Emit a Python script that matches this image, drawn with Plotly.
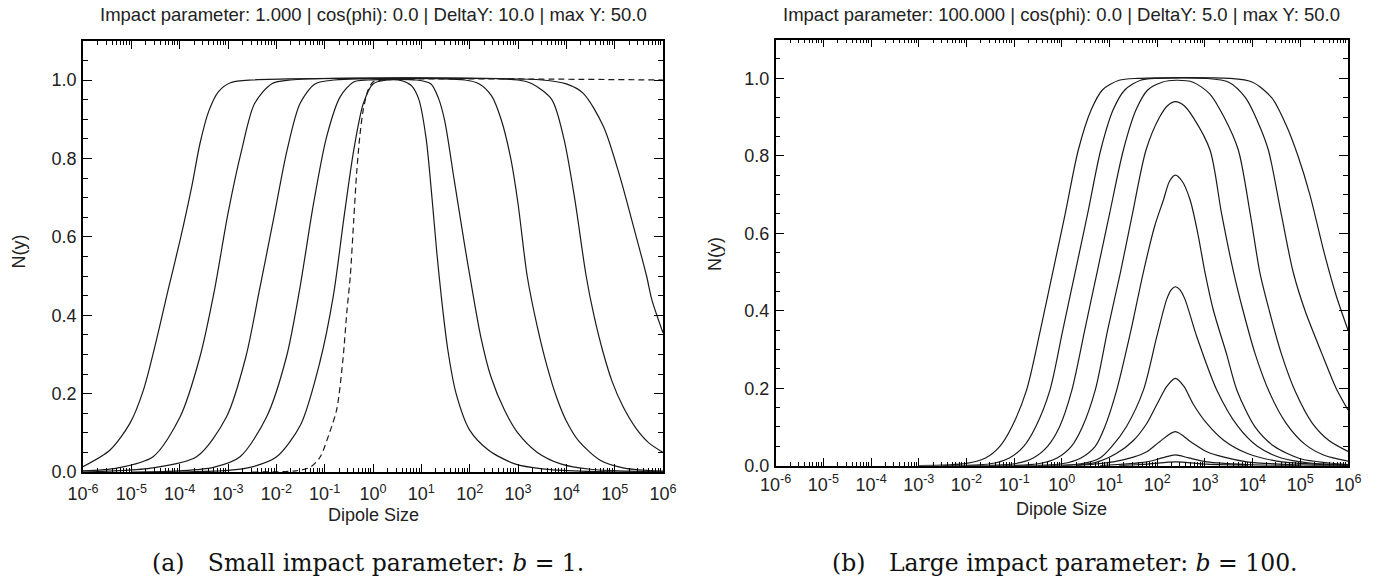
import numpy as np
import plotly.graph_objects as go

# ---------------------------------------------------------------
# Dipole amplitude N(r) vs dipole size r, read at several rapidities.
# Positions are given as log10(r); values are N.
# ---------------------------------------------------------------

# Panel (a): impact parameter b = 1, DeltaY = 10
a_y0_logr = [-2.5, -1.6, -1.3, -1.1, -0.9, -0.75, -0.62, -0.54, -0.47, -0.40, -0.34, -0.27, -0.20, -0.10, 0.0, 0.2, 6.0]
a_y0_n = [0.0, 0.003, 0.012, 0.037, 0.10, 0.16, 0.29, 0.41, 0.5, 0.64, 0.76, 0.86, 0.925, 0.975, 0.995, 1.0, 1.0]

a_y10_logr = [-4.0, -3.0, -2.5, -2.0, -1.5, -1.1, -0.82, -0.6, -0.4, -0.2, 0.0, 0.3, 0.6, 0.8, 0.95, 1.1, 1.22, 1.32, 1.42, 1.55, 1.72, 2.0, 2.4, 2.95, 3.5, 4.3, 5.2, 6.0]
a_y10_n = [0.0, 0.004, 0.013, 0.038, 0.12, 0.28, 0.45, 0.65, 0.82, 0.94, 0.99, 1.0, 0.998, 0.985, 0.95, 0.85, 0.70, 0.56, 0.44, 0.31, 0.20, 0.107, 0.055, 0.02, 0.008, 0.002, 0.0, 0.0]

a_y20_logr = [-5.0, -4.0, -3.3, -2.75, -2.2, -1.79, -1.52, -1.23, -0.96, -0.68, -0.4, -0.1, 0.9, 1.2, 1.35, 1.48, 1.68, 1.89, 2.03, 2.23, 2.44, 2.72, 3.0, 3.4, 3.9, 4.5, 5.3, 6.0]
a_y20_n = [0.0, 0.003, 0.012, 0.039, 0.141, 0.294, 0.464, 0.685, 0.855, 0.957, 0.995, 1.0, 1.0, 0.99, 0.955, 0.898, 0.745, 0.583, 0.481, 0.345, 0.243, 0.158, 0.099, 0.05, 0.02, 0.007, 0.002, 0.0]

a_y30_logr = [-6.0, -5.5, -4.6, -3.65, -3.03, -2.63, -2.35, -2.05, -1.78, -1.51, -1.2, -0.8, 1.9, 2.2, 2.45, 2.65, 2.85, 3.0, 3.19, 3.4, 3.6, 3.8, 4.0, 4.25, 4.7, 5.2, 6.0]
a_y30_n = [0.0, 0.002, 0.01, 0.039, 0.141, 0.294, 0.464, 0.65, 0.82, 0.94, 0.99, 1.0, 1.0, 0.99, 0.96, 0.90, 0.80, 0.685, 0.5, 0.37, 0.27, 0.19, 0.13, 0.08, 0.03, 0.01, 0.002]

a_y40_logr = [-6.0, -5.3, -4.55, -3.99, -3.58, -3.28, -3.0, -2.72, -2.45, -2.1, -1.7, 3.0, 3.3, 3.7, 3.95, 4.17, 4.41, 4.57, 4.75, 4.95, 5.18, 5.45, 5.7, 6.0]
a_y40_n = [0.003, 0.01, 0.039, 0.141, 0.294, 0.464, 0.66, 0.82, 0.94, 0.99, 1.0, 1.0, 0.99, 0.95, 0.85, 0.70, 0.5, 0.40, 0.31, 0.23, 0.165, 0.11, 0.075, 0.05]

a_y50_logr = [-6.0, -5.44, -5.03, -4.75, -4.48, -4.24, -3.99, -3.75, -3.58, -3.4, -3.2, -2.95, -2.5, 3.5, 4.0, 4.35, 4.77, 5.11, 5.39, 5.66, 5.77, 6.0]
a_y50_n = [0.0135, 0.056, 0.124, 0.209, 0.337, 0.464, 0.592, 0.728, 0.838, 0.92, 0.97, 0.993, 1.0, 1.0, 0.99, 0.966, 0.881, 0.753, 0.626, 0.5, 0.439, 0.355]

# Panel (b): impact parameter b = 100, DeltaY = 5
b_y5_logr = [1.2, 1.8, 2.38, 3.04, 3.9]
b_y5_n = [0.0, 0.004, 0.010, 0.004, 0.001]

b_y10_logr = [0.8, 1.78, 2.1, 2.38, 2.66, 3.04, 3.88, 5.0]
b_y10_n = [0.0, 0.010, 0.02, 0.028, 0.02, 0.010, 0.003, 0.0]

b_y15_logr = [0.3, 1.08, 1.5, 1.78, 2.05, 2.38, 2.7, 3.04, 3.4, 3.88, 4.8, 6.0]
b_y15_n = [0.0, 0.010, 0.022, 0.036, 0.062, 0.088, 0.062, 0.036, 0.022, 0.010, 0.003, 0.0]

b_y20_logr = [0.0, 0.7, 1.15, 1.5, 1.78, 2.0, 2.2, 2.38, 2.56, 2.75, 3.04, 3.4, 3.88, 4.5, 5.3, 6.0]
b_y20_n = [0.0, 0.008, 0.032, 0.065, 0.109, 0.16, 0.205, 0.2256, 0.205, 0.16, 0.109, 0.065, 0.032, 0.012, 0.004, 0.001]

b_y25_logr = [-0.5, 0.4, 0.8, 1.05, 1.35, 1.71, 1.99, 2.2, 2.3, 2.38, 2.47, 2.58, 2.83, 3.25, 3.7, 4.1, 4.6, 5.2, 6.0]
b_y25_n = [0.0, 0.005, 0.02, 0.05, 0.1, 0.195, 0.333, 0.43, 0.455, 0.462, 0.455, 0.43, 0.333, 0.195, 0.1, 0.05, 0.02, 0.007, 0.002]

b_y30_logr = [-1.0, 0.0, 0.4, 0.7, 0.9, 1.15, 1.45, 1.71, 1.95, 2.13, 2.26, 2.38, 2.52, 2.69, 2.85, 3.0, 3.18, 3.45, 3.67, 4.05, 4.45, 5.0, 5.6, 6.0]
b_y30_n = [0.0, 0.005, 0.02, 0.05, 0.1, 0.195, 0.35, 0.5, 0.62, 0.686, 0.735, 0.75, 0.735, 0.686, 0.6, 0.5, 0.40, 0.29, 0.195, 0.1, 0.05, 0.018, 0.007, 0.003]

b_y35_logr = [-1.5, -0.5, -0.1, 0.2, 0.43, 0.70, 0.96, 1.23, 1.48, 1.765, 2.05, 2.22, 2.38, 2.56, 2.75, 3.107, 3.35, 3.6, 3.8, 4.05, 4.35, 4.7, 5.1, 5.5, 6.0]
b_y35_n = [0.0, 0.005, 0.02, 0.05, 0.1, 0.195, 0.35, 0.5, 0.65, 0.815, 0.9, 0.93, 0.94, 0.93, 0.9, 0.815, 0.65, 0.5, 0.40, 0.29, 0.19, 0.11, 0.055, 0.027, 0.012]

b_y40_logr = [-2.0, -1.0, -0.6, -0.3, -0.05, 0.21, 0.48, 0.74, 1.0, 1.29, 1.56, 1.8, 2.1, 2.4, 2.75, 3.1, 3.4, 3.7, 3.95, 4.15, 4.35, 4.6, 4.9, 5.25, 5.6, 6.0]
b_y40_n = [0.0, 0.005, 0.02, 0.05, 0.1, 0.195, 0.35, 0.5, 0.65, 0.815, 0.92, 0.97, 0.99, 0.995, 0.99, 0.96, 0.90, 0.815, 0.65, 0.5, 0.40, 0.29, 0.19, 0.11, 0.065, 0.037]

b_y45_logr = [-2.5, -1.5, -1.1, -0.8, -0.55, -0.25, 0.02, 0.28, 0.54, 0.815, 1.08, 1.32, 1.65, 2.0, 3.0, 3.5, 3.85, 4.1, 4.33, 4.6, 4.85, 5.1, 5.45, 5.75, 6.0]
b_y45_n = [0.0, 0.005, 0.02, 0.05, 0.1, 0.195, 0.35, 0.5, 0.65, 0.815, 0.92, 0.97, 0.995, 1.0, 1.0, 0.99, 0.95, 0.89, 0.815, 0.65, 0.5, 0.40, 0.29, 0.2, 0.144]

b_y50_logr = [-3.0, -2.0, -1.6, -1.3, -1.05, -0.74, -0.45, -0.19, 0.07, 0.345, 0.62, 0.85, 1.2, 1.6, 3.5, 4.0, 4.4, 4.7, 4.95, 5.2, 5.5, 5.75, 6.0]
b_y50_n = [0.0, 0.006, 0.02, 0.05, 0.1, 0.195, 0.35, 0.5, 0.65, 0.815, 0.92, 0.97, 0.995, 1.0, 1.0, 0.99, 0.95, 0.88, 0.80, 0.70, 0.55, 0.44, 0.35]

decades = list(range(-6, 7))
y_major = [0.0, 0.2, 0.4, 0.6, 0.8, 1.0]

titles = [
    "Impact parameter: 1.000 | cos(phi): 0.0 | DeltaY: 10.0 | max Y: 50.0",
    "Impact parameter: 100.000 | cos(phi): 0.0 | DeltaY: 5.0 | max Y: 50.0",
]
captions = [
    "(a)\u2003Small impact parameter: <i>b</i> = 1.",
    "(b)\u2003Large impact parameter: <i>b</i> = 100.",
]

W, H = 1385, 579
SANS = "Liberation Sans, Arial, sans-serif"
SERIF = "DejaVu Serif, serif"
INK = "#1a1a1a"

fig = go.Figure()

panel_a = [(a_y0_logr, a_y0_n, "6px,4px"), (a_y10_logr, a_y10_n, "solid"),
           (a_y20_logr, a_y20_n, "solid"), (a_y30_logr, a_y30_n, "solid"),
           (a_y40_logr, a_y40_n, "solid"), (a_y50_logr, a_y50_n, "solid")]
panel_b = [(b_y5_logr, b_y5_n), (b_y10_logr, b_y10_n), (b_y15_logr, b_y15_n),
           (b_y20_logr, b_y20_n), (b_y25_logr, b_y25_n), (b_y30_logr, b_y30_n),
           (b_y35_logr, b_y35_n), (b_y40_logr, b_y40_n), (b_y45_logr, b_y45_n),
           (b_y50_logr, b_y50_n)]

for lr, n, dash in panel_a:
    fig.add_trace(go.Scatter(
        x=np.power(10.0, lr), y=n, mode="lines", xaxis="x", yaxis="y",
        line=dict(color=INK, width=1.2, shape="spline", smoothing=0.8, dash=dash),
        showlegend=False, hoverinfo="skip"))

for lr, n in panel_b:
    fig.add_trace(go.Scatter(
        x=np.power(10.0, lr), y=n, mode="lines", xaxis="x2", yaxis="y2",
        line=dict(color=INK, width=1.2, shape="spline", smoothing=0.8),
        showlegend=False, hoverinfo="skip"))

x_tickvals = [10.0 ** k for k in decades]
x_ticktext = ["10<sup>%d</sup>" % k for k in decades]
x_minor = [m * 10.0 ** k for k in decades[:-1] for m in range(2, 10)]


def x_axis(dom, anchor, standoff):
    return dict(
        domain=dom, anchor=anchor, type="log", range=[-6, 6], automargin=False,
        tickmode="array", tickvals=x_tickvals, ticktext=x_ticktext,
        ticks="inside", ticklen=8, tickwidth=1, tickcolor="black",
        minor=dict(tickmode="array", tickvals=x_minor, ticks="inside",
                   ticklen=4, tickwidth=1, tickcolor="black", showgrid=False),
        showline=True, linecolor="black", linewidth=1.5, mirror="ticks",
        showgrid=False, zeroline=False, ticklabelstandoff=standoff,
        tickfont=dict(family=SANS, size=18, color="#222"))


def y_axis(dom, anchor):
    return dict(
        domain=dom, anchor=anchor, range=[0, 1.1], automargin=False,
        tickmode="array", tickvals=y_major,
        ticktext=["%.1f" % v for v in y_major],
        ticks="inside", ticklen=9, tickwidth=1, tickcolor="black",
        minor=dict(dtick=0.05, tick0=0, ticks="inside", ticklen=5,
                   tickwidth=1, tickcolor="black", showgrid=False),
        showline=True, linecolor="black", linewidth=1.5, mirror="ticks",
        showgrid=False, zeroline=False, ticklabelstandoff=1,
        tickfont=dict(family=SANS, size=18, color="#222"))


xa = [83 / W, 663 / W]
xb = [775.7 / W, 1348 / W]
ya = [1 - 472 / H, 1 - 40.8 / H]
yb = [1 - 465.7 / H, 1 - 39.6 / H]

fig.update_layout(
    template="none",
    width=W, height=H, margin=dict(l=0, r=0, t=0, b=0, autoexpand=False),
    paper_bgcolor="white", plot_bgcolor="white",
    xaxis=x_axis(xa, "y", 5), yaxis=y_axis(ya, "x"),
    xaxis2=x_axis(xb, "y2", 2), yaxis2=y_axis(yb, "x2"),
)

ann = []
for (x0, x1), title in zip([xa, xb], titles):
    ann.append(dict(text=title, x=(x0 + x1) / 2, y=1 - 14 / H, xref="paper", yref="paper",
                    xanchor="center", yanchor="middle", showarrow=False,
                    font=dict(family=SANS, size=18.5, color="#222")))
for (x0, x1), ymid in zip([xa, xb], [515, 508.5]):
    ann.append(dict(text="Dipole Size", x=(x0 + x1) / 2, y=1 - ymid / H, xref="paper", yref="paper",
                    xanchor="center", yanchor="middle", showarrow=False,
                    font=dict(family=SANS, size=18, color="#222")))
for xc, yc in [(18.5, 252), (715, 254)]:
    ann.append(dict(text="N(y)", x=xc / W, y=1 - yc / H, xref="paper", yref="paper",
                    xanchor="center", yanchor="middle", textangle=-90, showarrow=False,
                    font=dict(family=SANS, size=18, color="#222")))
for xc, cap in zip([367.5, 1065], captions):
    ann.append(dict(text=cap, x=xc / W, y=1 - 563 / H, xref="paper", yref="paper",
                    xanchor="center", yanchor="middle", showarrow=False,
                    font=dict(family=SERIF, size=23.5, color="#111")))
fig.update_layout(annotations=ann)

fig.write_html("out.html")
